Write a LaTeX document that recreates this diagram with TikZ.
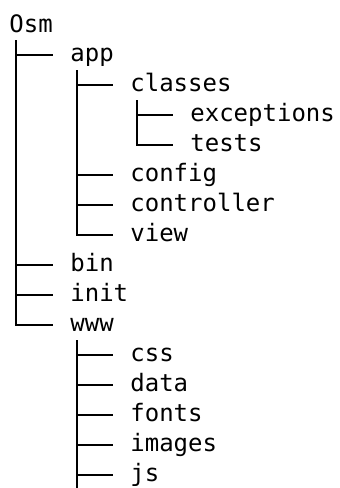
\documentclass[tikz,border=0pt]{standalone}
\usepackage{fontspec}
\setmonofont{DejaVu Sans Mono}
\usepackage{tikz}
\usetikzlibrary{calc,positioning}

\begin{document}
\begin{tikzpicture}[x=0.5pt,y=-0.5pt]
        \tikzstyle{entry} = [anchor=west, inner sep=0pt, text height=6.54pt, text depth=0pt, font=\ttfamily\fontsize{12}{14}\selectfont],
        \tikzstyle{branch} = [line width=1pt, shorten >=8.5pt],
        \useasboundingbox (0,0) rectangle (340,488);
        \coordinate (bottomend) at (0,488);

        \node [entry, name=osm] at (9,26) {Osm};
        \coordinate (osmstem) at ($(osm.west) + (7,14)$);

        % app
        \node [entry, name=app] at (70,55) {app};
        \coordinate (appstem) at ($(app.west) + (7,15)$);
        \node [entry, name=classes] at (130,85) {classes};
        \coordinate (classesstem) at ($(classes.west) + (7,15)$);
        \node [entry, name=exceptions] at (190,115) {exceptions};
        \node [entry, name=tests] at (190,145) {tests};
        \node [entry, name=config] at (130,175) {config};
        \node [entry, name=controller] at (130,205) {controller};
        \node [entry, name=view] at (130,235) {view};

        \node [entry, name=bin] at (70,265) {bin};
        \node [entry, name=init] at (70,295) {init};

        % www
        \node [entry, name=www] at (70,325) {www};
        \coordinate (wwwstem) at ($(www.west) + (7,15)$);
        \node [entry, name=css] at (130,355) {css};
        \node [entry, name=data] at (130,385) {data};
        \node [entry, name=fonts] at (130,415) {fonts};
        \node [entry, name=images] at (130,445) {images};
        \node [entry, name=js] at (130,475) {js};

        % branches
        \draw [branch] (osmstem) |- (app.west);
        \draw [branch] (osmstem) |- (bin.west);
        \draw [branch] (osmstem) |- (init.west);
        \draw [branch] (osmstem) |- (www.west);

        \draw [branch] (appstem) |- (classes.west);
        \draw [branch] (appstem) |- (config.west);
        \draw [branch] (appstem) |- (controller.west);
        \draw [branch] (appstem) |- (view.west);

        \draw [branch] (classesstem) |- (exceptions.west);
        \draw [branch] (classesstem) |- (tests.west);

        \draw [branch] (wwwstem) |- (css.west);
        \draw [branch] (wwwstem) |- (data.west);
        \draw [branch] (wwwstem) |- (fonts.west);
        \draw [branch] (wwwstem) |- (images.west);
        \draw [branch] (wwwstem) |- (js.west);
        \draw [branch, shorten >=0pt] (wwwstem) -- (wwwstem |- bottomend);

    \end{tikzpicture}
\end{document}
